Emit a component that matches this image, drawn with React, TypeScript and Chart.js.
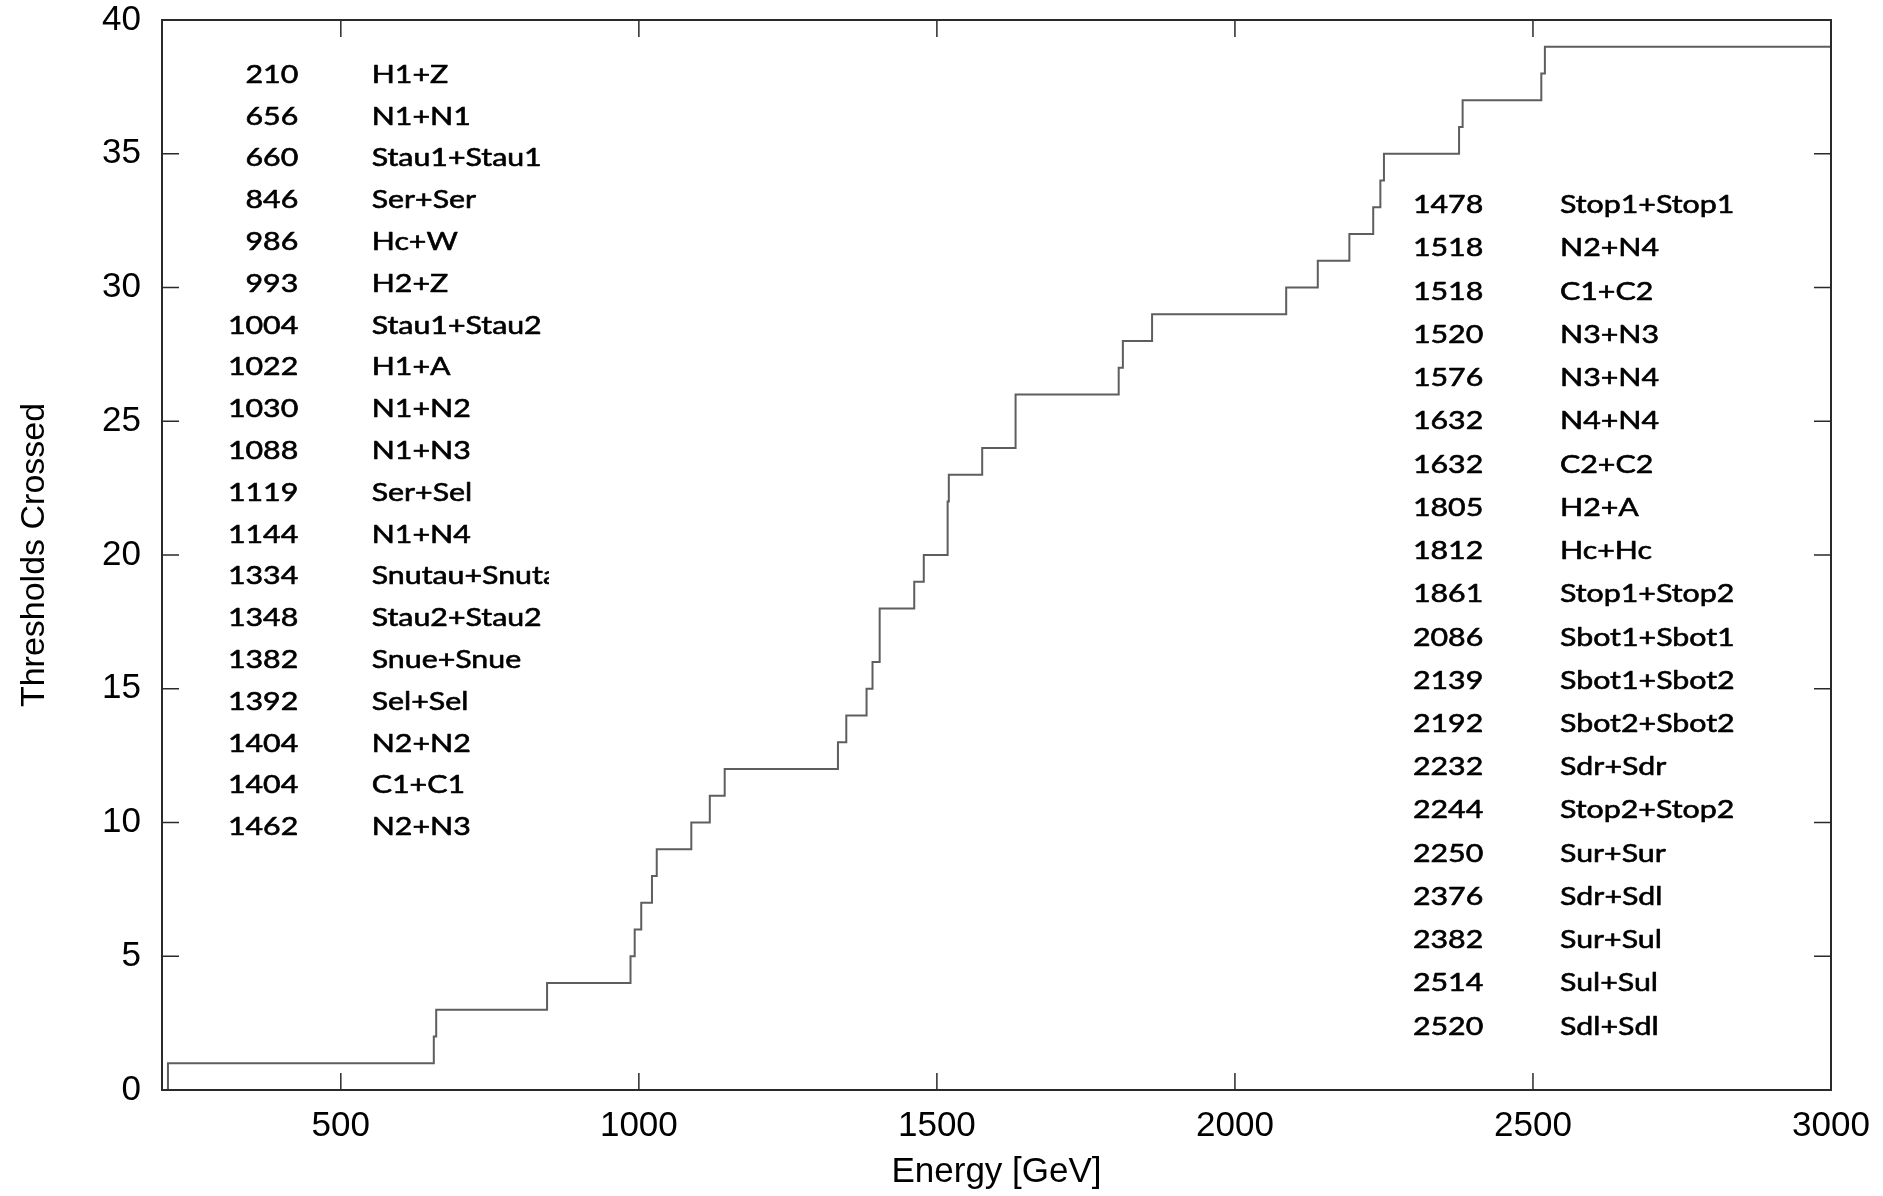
import React, { useEffect, useRef } from 'react';
import { Chart, registerables } from 'chart.js';

Chart.register(...registerables);

// ---- Data ----
const leftEnergies = [210, 656, 660, 846, 986, 993, 1004, 1022, 1030, 1088, 1119, 1144, 1334, 1348, 1382, 1392, 1404, 1404, 1462];
const leftNames = ['H1+Z', 'N1+N1', 'Stau1+Stau1', 'Ser+Ser', 'Hc+W', 'H2+Z', 'Stau1+Stau2', 'H1+A', 'N1+N2', 'N1+N3', 'Ser+Sel', 'N1+N4', 'Snutau+Snutau', 'Stau2+Stau2', 'Snue+Snue', 'Sel+Sel', 'N2+N2', 'C1+C1', 'N2+N3'];
const rightEnergies = [1478, 1518, 1518, 1520, 1576, 1632, 1632, 1805, 1812, 1861, 2086, 2139, 2192, 2232, 2244, 2250, 2376, 2382, 2514, 2520];
const rightNames = ['Stop1+Stop1', 'N2+N4', 'C1+C2', 'N3+N3', 'N3+N4', 'N4+N4', 'C2+C2', 'H2+A', 'Hc+Hc', 'Stop1+Stop2', 'Sbot1+Sbot1', 'Sbot1+Sbot2', 'Sbot2+Sbot2', 'Sdr+Sdr', 'Stop2+Stop2', 'Sur+Sur', 'Sdr+Sdl', 'Sur+Sul', 'Sul+Sul', 'Sdl+Sdl'];
// thresholds crossed after each energy (cumulative level of the step curve)
const crossedLevels = [1, 2, 3, 4, 5, 6, 7, 8, 9, 10, 11, 12, 13, 14, 15, 16, 17, 18, 19, 20, 21, 22, 23, 24, 25, 26, 27, 28, 29, 30, 31, 32, 33, 34, 35, 36, 37, 38, 39];
const xTickValues = [500, 1000, 1500, 2000, 2500, 3000];
const yTickValues = [0, 5, 10, 15, 20, 25, 30, 35, 40];
const xMin = 200;
const xMax = 3000;
const yMin = 0;
const yMax = 40;

const AXIS_FONT = "'Liberation Sans', Arial, sans-serif";
const TABLE_FONT = 'Lato';

const zeroPadding = (s: any) => {
  s.paddingTop = 0;
  s.paddingBottom = 0;
  s.paddingLeft = 0;
  s.paddingRight = 0;
};

const framePlugin = {
  id: 'frameAndTables',
  afterDatasetsDraw(chart: any) {
    const { ctx, chartArea: a, scales } = chart;
    ctx.save();
    // inward tick marks, mirrored on all sides
    ctx.strokeStyle = '#2a2a2a';
    ctx.lineWidth = 1.5;
    ctx.beginPath();
    const tl = 17;
    for (const v of xTickValues) {
      const px = scales.x.getPixelForValue(v);
      ctx.moveTo(px, a.bottom);
      ctx.lineTo(px, a.bottom - tl);
      ctx.moveTo(px, a.top);
      ctx.lineTo(px, a.top + tl);
    }
    for (const v of yTickValues) {
      const py = scales.y.getPixelForValue(v);
      ctx.moveTo(a.left, py);
      ctx.lineTo(a.left + tl, py);
      ctx.moveTo(a.right, py);
      ctx.lineTo(a.right - tl, py);
    }
    ctx.stroke();
    // frame
    ctx.lineWidth = 2;
    ctx.strokeRect(a.left, a.top, a.right - a.left, a.bottom - a.top);

    // tables
    ctx.fillStyle = '#000';
    ctx.strokeStyle = '#000';
    ctx.lineWidth = 0.6;
    ctx.lineJoin = 'round';
    ctx.font = `25px ${TABLE_FONT}`;
    const sx = 170 / ctx.measureText('Stau1+Stau1').width;
    const capHalf = 9;
    const put = (t: string, x: number, y: number) => {
      ctx.fillText(t, x, y);
      ctx.strokeText(t, x, y);
    };
    const drawTable = (
      energies: number[], names: string[], numRight: number, nameLeft: number,
      firstY: number, step: number, clipRight: number
    ) => {
      energies.forEach((e, i) => {
        const cy = firstY + i * step;
        ctx.save();
        ctx.scale(sx, 1);
        ctx.textBaseline = 'alphabetic';
        ctx.textAlign = 'right';
        put(String(e), numRight / sx, cy + capHalf);
        ctx.restore();
        ctx.save();
        ctx.beginPath();
        ctx.rect(nameLeft - 5, cy - 30, clipRight - nameLeft + 5, 60);
        ctx.clip();
        ctx.scale(sx, 1);
        ctx.textBaseline = 'alphabetic';
        ctx.textAlign = 'left';
        put(names[i], nameLeft / sx, cy + capHalf);
        ctx.restore();
      });
    };
    drawTable(leftEnergies, leftNames, 298.3, 371.7, 73.8, 41.8, 549);
    drawTable(rightEnergies, rightNames, 1483.3, 1560, 204.2, 43.23, 1800);
    ctx.restore();
  },
};

export default function App() {
  const canvasRef = useRef<HTMLCanvasElement | null>(null);

  useEffect(() => {
    if (!canvasRef.current) return;
    const energies = [...leftEnergies, ...rightEnergies];
    const points = [
      { x: xMin, y: 0 },
      ...energies.map((e, i) => ({ x: e, y: crossedLevels[i] })),
      { x: xMax, y: crossedLevels[crossedLevels.length - 1] },
    ];
    const chart = new Chart(canvasRef.current, {
      type: 'line',
      data: {
        datasets: [
          {
            data: points,
            stepped: true,
            borderColor: '#5e5e5e',
            borderWidth: 2,
            pointRadius: 0,
            fill: false,
            tension: 0,
          },
        ],
      },
      options: {
        animation: false,
        responsive: false,
        devicePixelRatio: 1,
        layout: { padding: { left: 0, right: 52, top: 20, bottom: 0 } },
        plugins: { legend: { display: false }, tooltip: { enabled: false } },
        scales: {
          x: {
            type: 'linear',
            min: xMin,
            max: xMax,
            afterBuildTicks: (s: any) => { s.ticks = xTickValues.map((v) => ({ value: v })); },
            afterFit: (s: any) => { s.height = 106; zeroPadding(s); },
            grid: { display: false, drawTicks: false },
            border: { display: false },
            ticks: {
              font: { family: AXIS_FONT, size: 35, lineHeight: 1 },
              color: '#000',
              padding: 19,
              maxRotation: 0,
              autoSkip: false,
              callback: (v: any) => String(v),
            },
            title: {
              display: true,
              text: 'Energy [GeV]',
              font: { family: AXIS_FONT, size: 35, lineHeight: 1 },
              color: '#000',
              padding: { top: 0, bottom: 6 },
            },
          },
          y: {
            type: 'linear',
            min: yMin,
            max: yMax,
            afterBuildTicks: (s: any) => { s.ticks = yTickValues.map((v) => ({ value: v })); },
            afterFit: (s: any) => { s.width = 162; zeroPadding(s); },
            grid: { display: false, drawTicks: false },
            border: { display: false },
            ticks: {
              font: { family: AXIS_FONT, size: 35, lineHeight: 1 },
              color: '#000',
              padding: 21,
              autoSkip: false,
              callback: (v: any) => String(v),
            },
            title: {
              display: true,
              text: 'Thresholds Crossed',
              font: { family: AXIS_FONT, size: 34, lineHeight: 1 },
              color: '#000',
              padding: { top: 18, bottom: 0 },
            },
          },
        },
      },
      plugins: [framePlugin],
    } as any);
    return () => chart.destroy();
  }, []);

  return (
    <div style={{ position: 'absolute', left: 0, top: 0, width: 1883, height: 1196, background: '#fff' }}>
      <canvas ref={canvasRef} width={1883} height={1196} style={{ display: 'block' }} />
    </div>
  );
}
